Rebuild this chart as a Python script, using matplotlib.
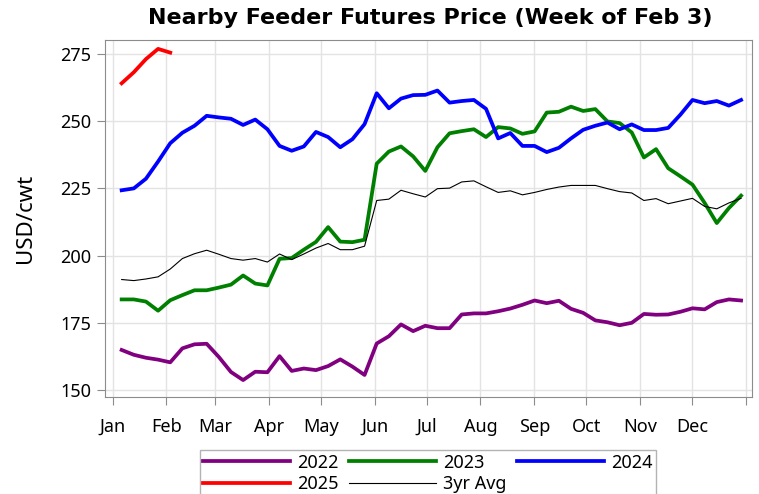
import matplotlib
matplotlib.use("Agg")
import matplotlib.pyplot as plt
import numpy as np

plt.rcParams["font.family"] = ["Noto Sans", "DejaVu Sans"]

# Weekly nearby feeder futures prices (USD/cwt)
y2022 = [164.9, 163.1, 162.0, 161.3, 160.3, 165.5, 167.0, 167.2, 162.3, 156.7, 153.7, 156.8, 156.6,
         162.6, 157.1, 158.0, 157.4, 158.9, 161.4, 158.7, 155.6, 167.3, 170.0, 174.4, 171.9, 173.9,
         173.0, 173.0, 178.1, 178.5, 178.5, 179.3, 180.3, 181.7, 183.3, 182.3, 183.2, 180.2, 178.7,
         175.9, 175.2, 174.1, 175.0, 178.3, 178.0, 178.1, 179.1, 180.4, 180.0, 182.7, 183.7, 183.3]
y2023 = [183.7, 183.7, 182.9, 179.5, 183.4, 185.3, 187.1, 187.1, 188.1, 189.2, 192.6, 189.6, 188.9,
         198.8, 199.1, 202.2, 205.1, 210.6, 205.2, 205.0, 205.9, 234.2, 238.7, 240.6, 236.9, 231.5,
         240.3, 245.5, 246.3, 247.0, 244.1, 247.8, 247.3, 245.3, 246.2, 253.2, 253.5, 255.4, 253.8,
         254.5, 249.9, 249.3, 245.8, 236.5, 239.6, 232.5, 229.5, 226.4, 219.6, 212.1, 217.7, 222.3]
y2024 = [224.3, 225.0, 228.6, 235.0, 241.8, 245.7, 248.3, 252.0, 251.4, 250.9, 248.6, 250.6, 247.0,
         240.8, 239.0, 240.6, 246.0, 244.1, 240.3, 243.3, 248.9, 260.4, 254.8, 258.4, 259.7, 259.8,
         261.4, 256.9, 257.5, 257.9, 254.6, 243.6, 245.6, 240.8, 240.8, 238.5, 240.1, 243.6, 246.8,
         248.3, 249.5, 247.0, 248.8, 246.7, 246.7, 247.5, 252.4, 257.9, 256.7, 257.5, 255.8, 257.9]
y2025 = [264.1, 268.2, 273.1, 276.9, 275.5]
avg3 = [191.1, 190.7, 191.3, 192.1, 195.0, 198.9, 200.7, 202.0, 200.5, 198.9, 198.3, 198.9, 197.6,
        200.6, 198.5, 200.6, 202.8, 204.5, 202.2, 202.2, 203.5, 220.5, 221.0, 224.3, 223.0, 221.8,
        224.9, 225.1, 227.4, 227.8, 225.6, 223.5, 224.1, 222.6, 223.5, 224.6, 225.5, 226.1, 226.1,
        226.1, 224.9, 223.8, 223.3, 220.5, 221.2, 219.3, 220.3, 221.3, 218.3, 217.4, 219.6, 221.3]

month_labels = ["Jan", "Feb", "Mar", "Apr", "May", "Jun", "Jul", "Aug", "Sep", "Oct", "Nov", "Dec"]
month_starts = [0, 31, 59, 90, 120, 151, 181, 212, 243, 273, 304, 334, 365]

# day-of-year of each weekly observation
weeks = np.arange(len(y2022))
days = 5.2 + 7 * weeks

fig = plt.figure(figsize=(7.59, 4.94), dpi=100)
ax = fig.add_axes([105 / 759, 1 - 397 / 494, (752 - 105) / 759, (397 - 40) / 494])

lw = 2.7
l22, = ax.plot(days, y2022, color="#800080", lw=lw, label="2022")
l23, = ax.plot(days, y2023, color="#008000", lw=lw, label="2023")
l24, = ax.plot(days, y2024, color="#0000FF", lw=lw, label="2024")
l25, = ax.plot(days[:len(y2025)], y2025, color="#FF0000", lw=lw, label="2025")
lav, = ax.plot(days, avg3, color="black", lw=0.8, label="3yr Avg")

ax.set_xlim(-4.4, 368.5)
ax.set_ylim(147.4, 280.2)
ax.set_xticks(month_starts)
ax.set_xticklabels(month_labels + [""])
ax.set_yticks([150, 175, 200, 225, 250, 275])
ax.grid(True, color="#e3e3e3", lw=1)
ax.set_axisbelow(True)
for s in ax.spines.values():
    s.set_color("#8c8c8c")
ax.tick_params(axis="both", colors="#8c8c8c", labelcolor="black", labelsize=13, length=6)
ax.tick_params(axis="x", pad=9)
ax.tick_params(axis="y", pad=4)
ax.set_ylabel("USD/cwt", fontsize=16, labelpad=17)

fig.suptitle("Nearby Feeder Futures Price (Week of Feb 3)", fontsize=16, fontweight="bold",
             family="DejaVu Sans", x=430 / 759, y=1 - 8 / 494, va="top")

handles = [l22, l25, l23, lav, l24]
leg = fig.legend(handles=handles, labels=[h.get_label() for h in handles],
                 loc="upper center", bbox_to_anchor=(428 / 759, 1 - 450 / 494), ncol=3,
                 fontsize=13, handlelength=4.8, frameon=True, fancybox=False,
                 edgecolor="#a0a0a0", borderpad=0.2, labelspacing=0.2, columnspacing=0.6,
                 handletextpad=0.4, borderaxespad=0)
leg.get_frame().set_linewidth(1)

fig.savefig("out.png", dpi=100)
